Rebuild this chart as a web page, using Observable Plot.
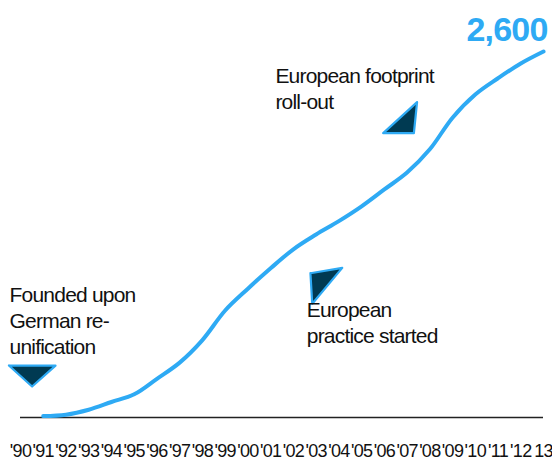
<!DOCTYPE html>
<html><head><meta charset="utf-8">
<script src="https://cdn.jsdelivr.net/npm/d3@7"></script>
<script src="https://cdn.jsdelivr.net/npm/@observablehq/plot@0.6"></script>
<style>
body{margin:0;background:#fff}
svg{display:block}
g[aria-label="x-axis tick label"] text{letter-spacing:-0.7px}
g[aria-label="text"] text{letter-spacing:-0.8px}
</style>
</head><body><div id="chart"></div>
<script>
// Series: number of locations
const years = [1991,1992,1993,1994,1995,1996,1997,1998,1999,2000,2001,2002,2003,2004,2005,2006,2007,2008,2009,2010,2011,2012,2013];
const counts = [10,20,55,110,165,275,390,550,760,915,1060,1195,1300,1395,1500,1620,1740,1905,2130,2295,2410,2515,2600];

// Axis ticks
const tickYears = [1990,1991,1992,1993,1994,1995,1996,1997,1998,1999,2000,2001,2002,2003,2004,2005,2006,2007,2008,2009,2010,2011,2012,2013];
const tickLabels = ["'90","'91","'92","'93","'94","'95","'96","'97","'98","'99","'00","'01","'02","'03","'04","'05","'06","'07","'08","'09","'10","'11","'12","13"];

// End label
const endLabel = "2,600";

// Annotation texts, anchored in (year, value) space
const noteTexts = ["Founded upon\nGerman re-\nunification", "European\npractice started", "European footprint\nroll-out"];
const noteYears = [1989.52, 2002.59, 2001.21];
const noteValues = [950, 845, 2510];

// Annotation marker triangles (vertex lists in year/value space)
const markerIds = [1,1,1,1, 2,2,2,2, 3,3,3,3];
const markerYears = [1989.49,1991.54,1990.51,1989.49, 2002.75,2004.15,2002.83,2002.75, 2007.44,2007.30,2005.95,2007.44];
const markerValues = [369,369,220,369, 1025,1063,808,1025, 2240,2020,2020,2240];

const series = years.map((y, i) => ({year: y, value: counts[i]}));
const notes = noteTexts.map((t, i) => ({text: t, year: noteYears[i], value: noteValues[i]}));
const markers = markerIds.map((id, i) => ({id, year: markerYears[i], value: markerValues[i]}));
const last = series[series.length - 1];

const blue = "#2eaaf4";
const navy = "#003a52";

const chart = Plot.plot({
  width: 552,
  height: 465,
  marginLeft: 20,
  marginRight: 9,
  marginTop: 51,
  marginBottom: 48,
  style: {fontFamily: "'Liberation Sans', Arial, sans-serif", background: "#fff", color: "#111"},
  x: {domain: [1990, 2013], axis: null},
  y: {domain: [0, 2600], axis: null},
  marks: [
    Plot.axisX({
      ticks: tickYears,
      tickFormat: (d) => tickLabels[tickYears.indexOf(d)],
      tickSize: 0,
      tickPadding: 27,
      fontSize: 18,
      fill: "#111",
      label: null
    }),
    Plot.ruleY([0], {stroke: "#222", strokeWidth: 1.5}),
    Plot.line(markers, {x: "year", y: "value", z: "id", fill: navy, stroke: blue, strokeWidth: 2.2, strokeLinejoin: "round"}),
    Plot.line(series, {x: "year", y: "value", stroke: blue, strokeWidth: 4, curve: "catmull-rom"}),
    Plot.text([last], {x: "year", y: "value", text: () => endLabel, textAnchor: "end", dx: 4, dy: -21, fontSize: 34, fontWeight: "bold", fill: blue}),
    Plot.text(notes, {x: "year", y: "value", text: "text", textAnchor: "start", lineAnchor: "top", lineHeight: 1.24, fontSize: 21, fill: "#111"})
  ]
});
document.getElementById("chart").append(chart);
</script>
</body></html>
